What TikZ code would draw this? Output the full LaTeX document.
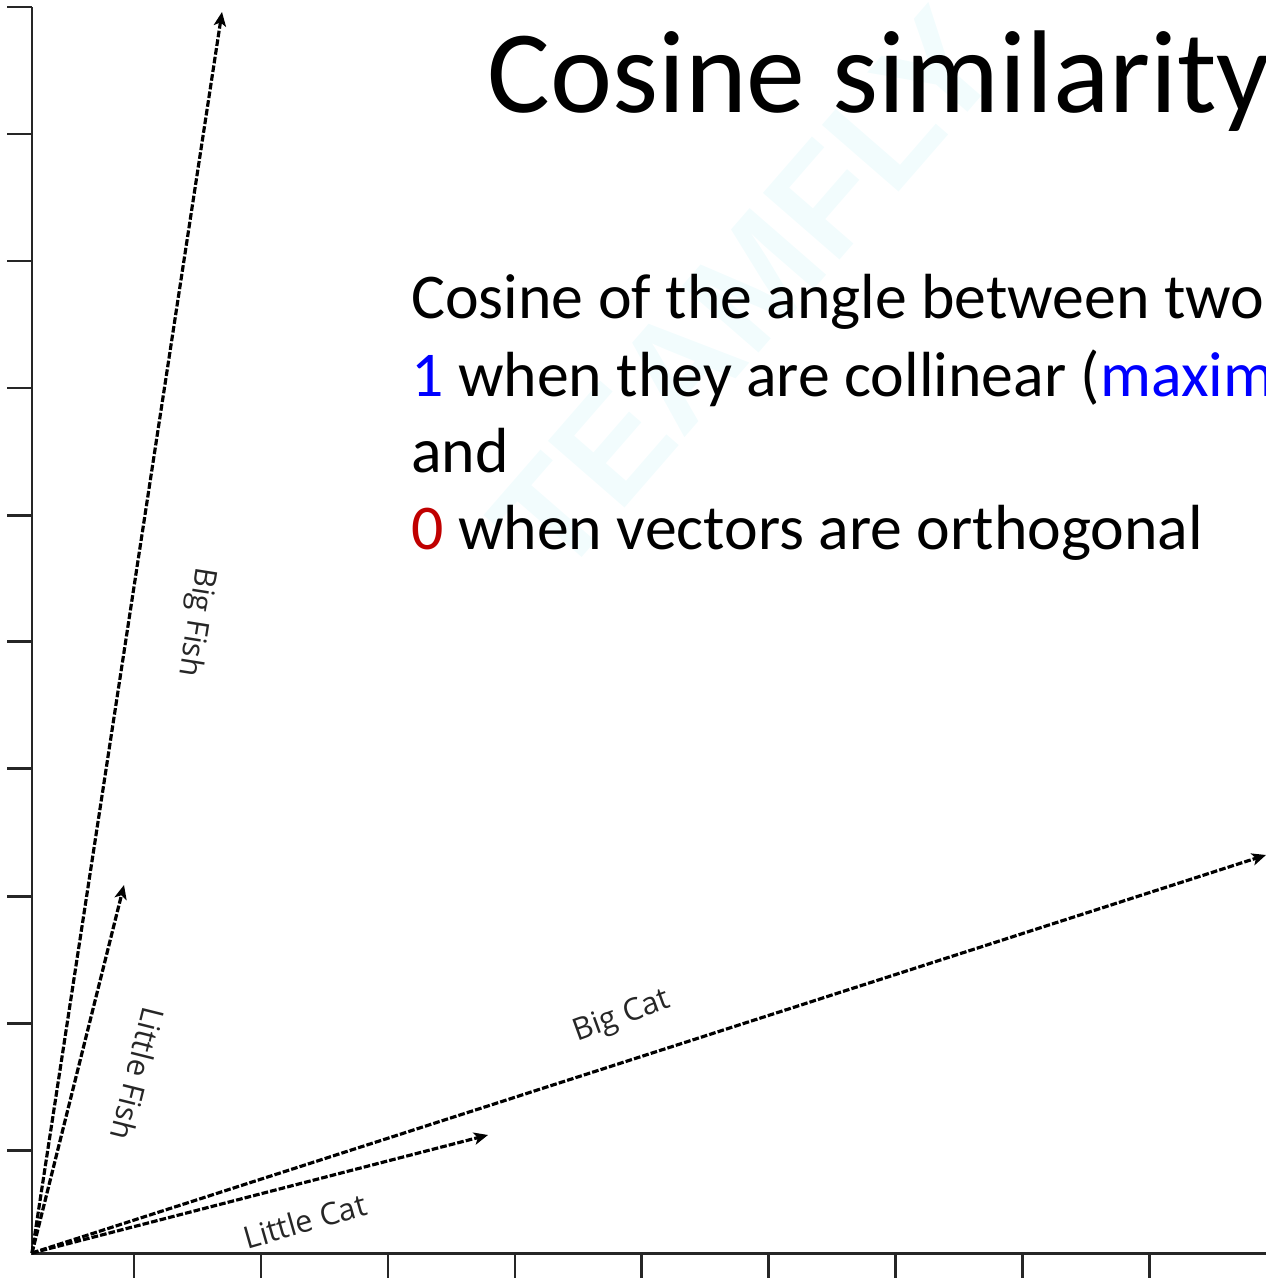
\documentclass[tikz,border=0pt]{standalone}
\usepackage{fontspec}
\setmainfont{Carlito}
\newfontfamily\labelfont{Open Sans}
\newfontfamily\wmfont{Liberation Sans}
\usetikzlibrary{arrows.meta}
\definecolor{oneblue}{RGB}{0,0,255}
\definecolor{zerored}{RGB}{192,0,0}
\definecolor{wmcyan}{RGB}{242,252,253}
\begin{document}
\begin{tikzpicture}[x=0.02cm,y=-0.02cm,
  axisline/.style={line width=1.7pt,black!85},
  vec/.style={line width=1.8pt,black,dash pattern=on 3.8pt off 1.2pt,
    -{Stealth[length=8pt,width=7pt,inset=2pt]}},
  veclabel/.style={font=\labelfont\fontsize{17.5pt}{19pt}\selectfont,text=black!85,inner sep=0pt},
  bodytext/.style={anchor=base west,inner sep=0pt,font=\fontsize{36.3pt}{43.6pt}\selectfont},
  titletext/.style={anchor=base west,inner sep=0pt,font=\fontsize{67pt}{80pt}\selectfont}]
\useasboundingbox (0,0) rectangle (1266,1278);
\clip (0,0) rectangle (1266,1278);
% watermark
\node (wm) [rotate=49,inner sep=0pt,text=wmcyan,font=\wmfont\bfseries\fontsize{84pt}{90pt}\selectfont] at (745,292) {TEAMFLY};
% axes
\coordinate (O) at (32,1253);
\coordinate (ytop) at (32,7);
\coordinate (xend) at (1270,1253);
\draw[axisline] (ytop) -- (O) -- (xend);
\foreach \ty in {7,134,261,388,515,641,768,896,1023,1150}
  \draw[axisline] (7,\ty) -- (32,\ty);
\foreach \tx in {134,261,388,515,641,768,895,1022,1149}
  \draw[axisline] (\tx,1253) -- (\tx,1280);
% vector tips
\coordinate (bigfish) at (222,12);
\coordinate (littlefish) at (124,885);
\coordinate (bigcat) at (1266,855);
\coordinate (littlecat) at (488,1135);
\draw[vec] (O) -- (bigfish);
\draw[vec] (O) -- (littlefish);
\draw[vec] (O) -- (bigcat);
\draw[vec] (O) -- (littlecat);
% vector labels
\node (lbf) [veclabel,rotate=-99] at (196,622) {Big Fish};
\node (llf) [veclabel,rotate=-104] at (138,1074) {Little Fish};
\node (lbc) [veclabel,rotate=20] at (622,1017) {Big Cat};
\node (llc) [veclabel,rotate=16] at (305,1221) {Little Cat};
% text
\node (title) [titletext] at (487,112) {Cosine similarity};
\node (l1) [bodytext] at (411,318) {Cosine of the angle between two};
\node (l2) [bodytext] at (411,396) {\textcolor{oneblue}{1} when they are collinear (\textcolor{oneblue}{maxim}};
\node (l3) [bodytext] at (411,472) {and};
\node (l4) [bodytext] at (411,549) {\textcolor{zerored}{0} when vectors are orthogonal};
\end{tikzpicture}
\end{document}
